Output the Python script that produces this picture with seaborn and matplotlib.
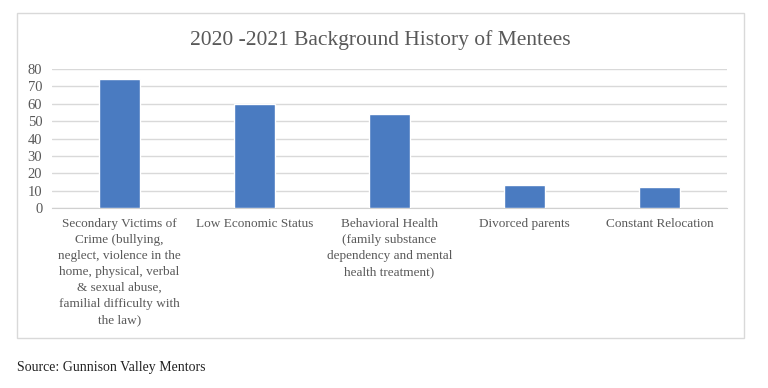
import matplotlib
matplotlib.use('Agg')
import matplotlib.pyplot as plt
import seaborn as sns
import pandas as pd
from matplotlib.patches import Rectangle

# Chart data
categories = [
    'Secondary Victims of\nCrime (bullying,\nneglect, violence in the\nhome, physical, verbal\n& sexual abuse,\nfamilial difficulty with\nthe law)',
    'Low Economic Status',
    'Behavioral Health\n(family substance\ndependency and mental\nhealth treatment)',
    'Divorced parents',
    'Constant Relocation',
]
counts = [74, 60, 54, 13, 12]
y_ticks = [0, 10, 20, 30, 40, 50, 60, 70, 80]

title = '2020 -2021 Background History of Mentees'
source = 'Source: Gunnison Valley Mentors'

df = pd.DataFrame({'category': categories, 'count': counts})

sns.set_style('white')
plt.rcParams['font.family'] = ['Liberation Serif', 'DejaVu Serif']

fig = plt.figure(figsize=(7.68, 3.88), dpi=100)
ax = fig.add_axes([52 / 768, 1 - 208 / 388, (727 - 52) / 768, (208 - 69) / 388])

sns.barplot(data=df, x='category', y='count', color='#4a7bc1', width=0.31,
            saturation=1, ax=ax, zorder=3)

ax.set_ylim(0, 80)
ax.set_xlim(-0.5, len(categories) - 0.5)
ax.set_yticks(y_ticks)
ax.yaxis.grid(True, color='#d9d9d9', linewidth=1, zorder=0)
ax.set_axisbelow(True)
ax.set_xlabel('')
ax.set_ylabel('')
for side in ['top', 'right', 'left']:
    ax.spines[side].set_visible(False)
ax.spines['bottom'].set_color('#d0d0d0')
ax.tick_params(axis='both', length=0, labelcolor='#595959')
ax.tick_params(axis='x', pad=7, labelsize=9.5)
ax.tick_params(axis='y', pad=7, labelsize=10.5)
for lbl in ax.get_xticklabels():
    lbl.set_linespacing(1.45)
    lbl.set_multialignment('center')

# outer chart border
fig.patches.append(Rectangle((17 / 768, 1 - 338 / 388), (744 - 17) / 768, (338 - 13) / 388,
                             transform=fig.transFigure, fill=False,
                             edgecolor='#d9d9d9', linewidth=1))

fig.text(380 / 768, 1 - 40 / 388, title, ha='center', va='center',
         fontsize=15.5, color='#595959')
fig.text(17 / 768, 1 - 367 / 388, source, ha='left', va='center',
         fontsize=10, color='#222222')

fig.savefig('out.png', dpi=100, facecolor='white')
